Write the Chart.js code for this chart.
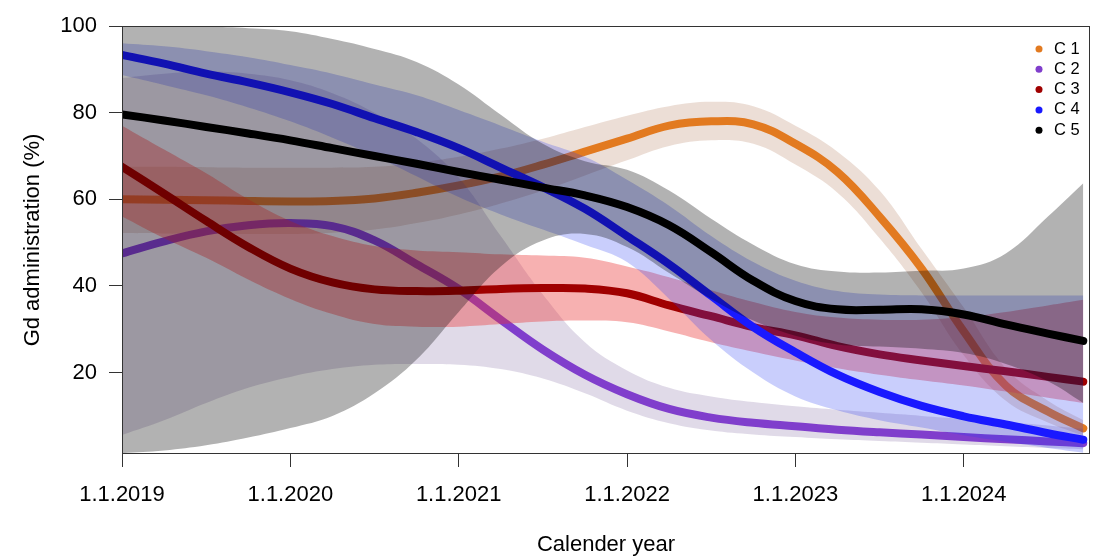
<!DOCTYPE html>
<html>
<head>
<meta charset="utf-8">
<title>Gd administration by calender year</title>
<script src="https://cdn.jsdelivr.net/npm/chart.js@4.4.1/dist/chart.umd.min.js"></script>
<style>
  html, body { margin: 0; padding: 0; background: #fff; }
  #wrap { width: 1109px; height: 558px; position: relative; }
</style>
</head>
<body>
<div id="wrap"><canvas id="gdChart"></canvas></div>
<script>
// x values are years since 1.1.2019
const tYears = [0, 0.25, 0.5, 0.75, 1, 1.25, 1.5, 1.75, 2, 2.25, 2.5, 2.75,
                3, 3.25, 3.5, 3.75, 4, 4.25, 4.5, 4.75, 5, 5.25, 5.5, 5.71];
const yearTicks = [0, 1, 2, 3, 4, 5];
const yearLabels = ['1.1.2019', '1.1.2020', '1.1.2021', '1.1.2022', '1.1.2023', '1.1.2024'];
const yTicks = [20, 40, 60, 80, 100];
const groupNames = ['C 1', 'C 2', 'C 3', 'C 4', 'C 5'];

// C 1
const c1Fit   = [60, 59.9, 59.8, 59.6, 59.5, 59.6, 60.2, 61.5, 63.2, 65.3, 68, 71, 74, 77, 78, 77.3, 72.8, 66.3, 56, 44, 29.5, 17, 11, 7.1];
const c1Upper = [67.5, 67.5, 67.4, 67.3, 67.3, 67.3, 67.5, 68.4, 69.8, 71.7, 74, 76.7, 79.3, 81.5, 82.5, 81.5, 77, 71, 62, 48.5, 35, 21, 13.5, 9];
const c1Lower = [52.2, 52.1, 52, 52, 52, 52.3, 53, 54.5, 56.5, 59, 62, 65.5, 69, 72.3, 73.6, 72.8, 68, 61.5, 51, 38.5, 24, 13.5, 8.5, 5.5];
// C 2
const c2Fit   = [47.5, 50.3, 52.6, 54, 54.5, 53.8, 50.5, 45, 39.3, 32.2, 25.3, 19.5, 15, 11.6, 9.6, 8.4, 7.6, 6.8, 6.2, 5.7, 5.1, 4.6, 4.1, 3.7];
const c2Upper = [88, 89, 89.5, 89, 87.5, 84.5, 80, 74, 65, 51.5, 38, 27, 20.5, 16.5, 14.5, 13.2, 12.2, 11.4, 10.7, 10, 9.3, 8.6, 7.8, 7];
const c2Lower = [5.6, 9, 13, 16.5, 19, 20.8, 21.8, 22, 21.8, 20.8, 18.6, 15.2, 11.2, 8.3, 6.6, 5.7, 5.1, 4.6, 4.2, 3.8, 3.4, 3, 2.6, 2.3];
// C 3
const c3Fit   = [67.5, 61.3, 55, 49, 44, 40.8, 39.2, 38.8, 38.9, 39.3, 39.5, 39.4, 38.3, 35.5, 33, 30.5, 28.6, 26.1, 24.2, 22.8, 21.5, 20.3, 19, 17.9];
const c3Upper = [77, 71.5, 66, 60, 55, 51.5, 49.2, 48.2, 47.8, 47.3, 47, 46.5, 44.5, 42, 39, 36.3, 34, 32.7, 32.2, 32.2, 32.8, 34, 35.5, 36.8];
const c3Lower = [56, 51, 46.5, 41.5, 37, 33.5, 31.2, 30.6, 30.6, 31.2, 31.8, 32, 31.6, 29.5, 27, 24.8, 22.8, 21, 19.5, 18.2, 17, 15.6, 14.2, 13];
// C 4
const c4Fit   = [93.3, 91.3, 89, 87, 84.7, 82, 78.7, 75.5, 71.8, 67.3, 62.8, 57.8, 51.5, 45, 37.7, 30.5, 24.7, 19.5, 15.5, 12.3, 9.9, 8, 6, 4.5];
const c4Upper = [96, 95.3, 94.2, 92.8, 91, 89, 86.5, 84, 80.6, 77, 73.3, 69.8, 64.5, 58.5, 51.5, 45.5, 41.2, 38.8, 38, 37.8, 37.8, 37.8, 37.8, 37.8];
const c4Lower = [88.7, 86.4, 84, 81.2, 78, 74.2, 70, 65.3, 60.5, 56.5, 53, 49.5, 45.5, 37, 27.5, 20, 14.5, 11.3, 9, 7.3, 5.5, 4, 2.6, 1.5];
// C 5
const c5Fit   = [79.6, 78.2, 76.7, 75.2, 73.6, 71.8, 70, 68.2, 66.3, 64.5, 62.7, 60.9, 58.2, 54, 47.8, 41.2, 36.5, 34.6, 34.5, 34.6, 33.4, 31.1, 29, 27.3];
const c5Upper = [100, 100, 99.8, 99.5, 98.8, 97, 94.7, 91.7, 86.5, 79.5, 72.8, 68.8, 66.8, 62, 55.5, 49.5, 45, 43.3, 43.1, 43.5, 44, 47.5, 56, 63.7];
const c5Lower = [1.4, 2, 3.2, 5, 7.2, 10, 15.2, 23, 34, 44.5, 50.5, 52, 49, 43, 37, 32, 28.5, 26.5, 26, 25.5, 24.5, 22, 18, 13];

// styling
const lineColors = ['rgb(226,122,32)', 'rgb(128,62,204)', 'rgb(160,0,0)', 'rgb(25,25,255)', '#000'];
const bandColors = ['rgba(160,90,50,0.2)', 'rgba(100,70,140,0.2)', 'rgba(235,50,50,0.38)',
                    'rgba(40,60,245,0.25)', 'rgba(0,0,0,0.3)'];
const FONT = 'Liberation Sans, Arial, sans-serif';

const groups = [
  { fit: c1Fit, lo: c1Lower, hi: c1Upper },
  { fit: c2Fit, lo: c2Lower, hi: c2Upper },
  { fit: c3Fit, lo: c3Lower, hi: c3Upper },
  { fit: c4Fit, lo: c4Lower, hi: c4Upper },
  { fit: c5Fit, lo: c5Lower, hi: c5Upper }
];

const toPoints = arr => arr.map((v, i) => ({ x: tYears[i], y: v }));

// band + line per group, C 1 drawn first (bottom), C 5 last (top)
const datasets = [];
groups.forEach((g, i) => {
  const base = (groups.length - i) * 10;
  datasets.push({
    label: groupNames[i] + ' lower', data: toPoints(g.lo),
    borderWidth: 0, borderColor: 'transparent', fill: false, order: base + 2
  });
  datasets.push({
    label: groupNames[i] + ' upper', data: toPoints(g.hi),
    borderWidth: 0, borderColor: 'transparent', backgroundColor: bandColors[i],
    fill: '-1', order: base + 1
  });
  datasets.push({
    label: groupNames[i], data: toPoints(g.fit),
    borderColor: lineColors[i], borderWidth: 8, borderCapStyle: 'round',
    borderJoinStyle: 'round', fill: false, order: base
  });
});

// plot frame and the small legend in the top right corner
const frameAndLegend = {
  id: 'frameAndLegend',
  afterDraw(chart) {
    const { ctx, chartArea: a } = chart;
    ctx.save();
    ctx.strokeStyle = '#333';
    ctx.lineWidth = 1;
    ctx.strokeRect(a.left + 0.5, a.top + 0.5, a.right - a.left - 1, a.bottom - a.top - 1);

    ctx.font = '16.5px ' + FONT;
    ctx.textBaseline = 'middle';
    ctx.textAlign = 'left';
    groupNames.forEach((name, i) => {
      const y = a.top + 23 + i * 20.3;
      ctx.fillStyle = lineColors[i];
      ctx.beginPath();
      ctx.arc(a.right - 51, y, 3.5, 0, Math.PI * 2);
      ctx.fill();
      ctx.fillStyle = '#000';
      ctx.fillText(name, a.right - 36, y);
    });
    ctx.restore();
  }
};

const ctx = document.getElementById('gdChart');
new Chart(ctx, {
  type: 'line',
  data: { datasets },
  plugins: [frameAndLegend],
  options: {
    responsive: true,
    maintainAspectRatio: false,
    animation: false,
    events: [],
    layout: { padding: { top: 26, right: 19, bottom: 0, left: 0 } },
    elements: {
      point: { radius: 0 },
      line: { tension: 0.4 }
    },
    datasets: { line: { clip: 0 } },
    plugins: {
      legend: { display: false },
      tooltip: { enabled: false },
      filler: { propagate: false }
    },
    scales: {
      x: {
        type: 'linear',
        min: 0,
        max: 5.75,
        afterBuildTicks: s => { s.ticks = yearTicks.map(v => ({ value: v })); },
        afterFit: s => { s.height = 104; },
        ticks: {
          autoSkip: false,
          maxRotation: 0,
          padding: 15,
          color: '#000',
          font: { family: FONT, size: 22 },
          callback: (v, i) => yearLabels[i]
        },
        grid: { drawOnChartArea: false, tickLength: 13, color: '#333' },
        border: { display: false },
        title: {
          display: true, text: 'Calender year', color: '#000',
          font: { family: FONT, size: 22 }, padding: { top: 0, bottom: 0 }
        }
      },
      y: {
        type: 'linear',
        min: 1.2,
        max: 100,
        afterBuildTicks: s => { s.ticks = yTicks.map(v => ({ value: v })); },
        afterFit: s => { s.width = 122; },
        ticks: {
          padding: 12,
          color: '#000',
          font: { family: FONT, size: 22 }
        },
        grid: { drawOnChartArea: false, tickLength: 13, color: '#333' },
        border: { display: false },
        title: {
          display: true, text: 'Gd administration (%)', color: '#000',
          font: { family: FONT, size: 22 }, padding: { top: 20, bottom: 0 }
        }
      }
    }
  }
});
</script>
</body>
</html>
